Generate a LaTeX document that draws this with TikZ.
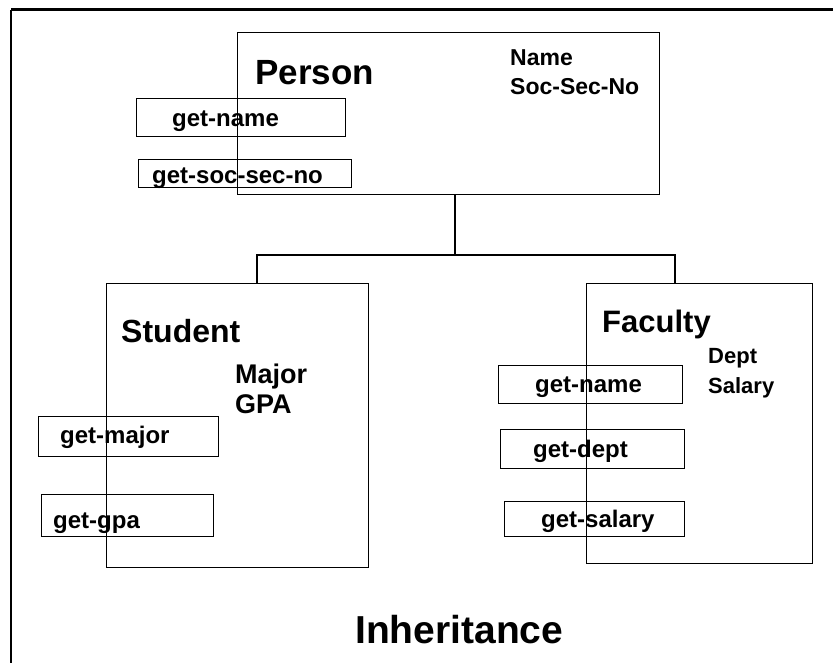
\documentclass[tikz,border=0pt]{standalone}
\usepackage{fontspec}
\setmainfont{Liberation Sans}
\usepackage{tikz}
\usetikzlibrary{positioning}

\begin{document}
\begin{tikzpicture}[
        x=1pt, y=-1pt,
        classbox/.style={rectangle, draw, line width=1.3pt, anchor=north west, inner sep=0pt},
        methbox/.style={rectangle, draw, line width=1.2pt, anchor=north west, inner sep=0pt},
        methtext/.style={anchor=base west, inner sep=0pt, font=\fontsize{24}{28}\selectfont\bfseries},
        attrtext/.style={anchor=base west, inner sep=0pt, align=left},
        titletext/.style={anchor=base west, inner sep=0pt},
        link/.style={line width=1.2pt}
    ]
    \useasboundingbox (0,0) rectangle (833,663);
    % Frame
    \coordinate (framebl) at (11,663);
    \coordinate (frametl) at (11,10);
    \coordinate (frametr) at (833,10);
    \draw[line width=2pt] (framebl) -- (frametl);
    \draw[line width=3pt] (frametl) -- (frametr);
    % Person
    \node[classbox, minimum width=422, minimum height=162] (person) at (237,32) {};
    \node[titletext, font=\fontsize{35}{40}\selectfont\bfseries] (persont) at (255,85) {Person};
    \node[attrtext, font=\fontsize{23}{29}\selectfont\bfseries] (persona) at (510,95) {Name\\Soc-Sec-No};
    \node[methbox, minimum width=209, minimum height=38] (pgetname) at (136,98) {};
    \node[methtext] (pgetnamet) at (172,127) {get-name};
    \node[methbox, minimum width=213, minimum height=28] (pgetssn) at (138,159) {};
    \node[methtext] (pgetssnt) at (152,184) {get-soc-sec-no};
    % Student
    \node[classbox, minimum width=262, minimum height=284] (student) at (106,283) {};
    \node[titletext, font=\fontsize{32}{36}\selectfont\bfseries] (studentt) at (121,342) {Student};
    \node[attrtext, font=\fontsize{27}{30}\selectfont\bfseries] (studenta) at (235,413) {Major\\GPA};
    \node[methbox, minimum width=180, minimum height=40] (sgetmajor) at (38,416) {};
    \node[methtext] (sgetmajort) at (60,443) {get-major};
    \node[methbox, minimum width=172, minimum height=42] (sgetgpa) at (41,494) {};
    \node[methtext] (sgetgpat) at (53,528) {get-gpa};
    % Faculty
    \node[classbox, minimum width=226, minimum height=280] (faculty) at (586,283) {};
    \node[titletext, font=\fontsize{31}{36}\selectfont\bfseries] (facultyt) at (602,332) {Faculty};
    \node[attrtext, font=\fontsize{22}{30}\selectfont\bfseries] (facultya) at (708,393) {Dept\\Salary};
    \node[methbox, minimum width=184, minimum height=38] (fgetname) at (498,365) {};
    \node[methtext] (fgetnamet) at (535,392) {get-name};
    \node[methbox, minimum width=184, minimum height=39] (fgetdept) at (500,429) {};
    \node[methtext] (fgetdeptt) at (533,457) {get-dept};
    \node[methbox, minimum width=180, minimum height=35] (fgetsalary) at (504,501) {};
    \node[methtext] (fgetsalaryt) at (541,527) {get-salary};
    % Caption
    \node[titletext, font=\fontsize{39}{44}\selectfont\bfseries] (caption) at (355,643) {Inheritance};
    % Links
    \coordinate (fork) at (455,255);
    \coordinate (sfork) at (257,255);
    \coordinate (ffork) at (675,255);
    \draw[link] (fork |- person.south) -- (fork);
    \draw[link] (sfork |- student.north) -- (sfork) -- (ffork) -- (ffork |- faculty.north);
\end{tikzpicture}
\end{document}
